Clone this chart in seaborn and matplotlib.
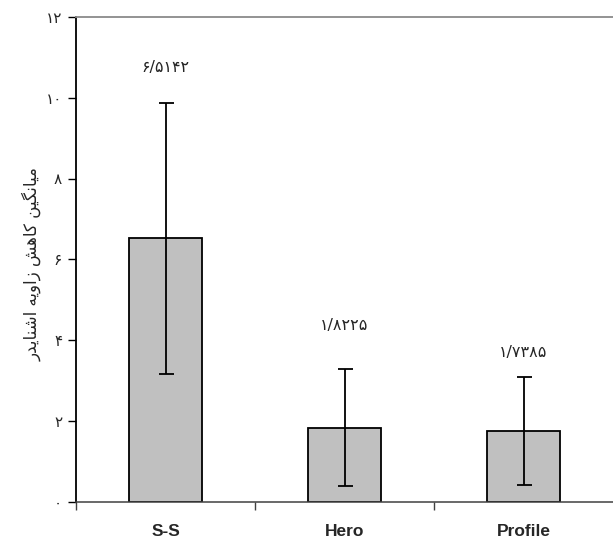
import matplotlib
matplotlib.use("Agg")
import matplotlib.pyplot as plt
import seaborn as sns

# data
groups = ["S-S", "Hero", "Profile"]
means = [6.5142, 1.8225, 1.7385]
errors = [3.35, 1.45, 1.34]
yticks = [0, 2, 4, 6, 8, 10, 12]

FA_DIGITS = str.maketrans("0123456789.", "۰۱۲۳۴۵۶۷۸۹/")


def fa_num(v, fmt="{:g}"):
    return fmt.format(v).translate(FA_DIGITS)


# "میانگین کاهش زاویه اشنایدر" written with presentation forms, reversed for LTR drawing
ylabel_forms = [
    "\uFEE3", "\uFBFF", "\uFE8E", "\uFEE7", "\uFB95", "\uFBFF", "\uFEE6", " ",
    "\uFB90", "\uFE8E", "\uFEEB", "\uFEB6", " ",
    "\uFEAF", "\uFE8D", "\uFEED", "\uFBFE", "\uFEEA", " ",
    "\uFE8D", "\uFEB7", "\uFEE8", "\uFE8E", "\uFBFE", "\uFEAA", "\uFEAD",
]
ylabel_text = "".join(reversed(ylabel_forms))

sns.set_style("white")
plt.rcParams["font.family"] = ["DejaVu Sans"]

fig = plt.figure(figsize=(6.13, 5.42), dpi=100)
ax = fig.add_axes([76 / 613, 40.5 / 542, 537 / 613, 484.5 / 542])

sns.barplot(x=groups, y=means, color="#c0c0c0", edgecolor="black",
            linewidth=1.3, width=0.41, saturation=1, errorbar=None, ax=ax)
ax.errorbar(range(len(groups)), means, yerr=errors, fmt="none",
            ecolor="black", elinewidth=1.3, capsize=5.4, capthick=1.3)

# value labels above the bars
label_y = [10.75, 4.37, 3.70]
for i, v in enumerate(means):
    ax.text(i, label_y[i], fa_num(v, "{:.4f}"), ha="center", va="center",
            fontsize=11.5, family=["DejaVu Sans"])

ax.set_ylim(0, 12)
ax.set_xlim(-0.5, 2.5)
ax.set_yticks(yticks)
ax.set_yticklabels([fa_num(t) for t in yticks], fontsize=11)
ax.tick_params(axis="y", direction="out", length=6, width=1, color="black",
               left=True, pad=4)

ax.set_xticks(range(len(groups)))
ax.set_xticklabels(groups, fontsize=12.5, fontweight="bold",
                   family=["Liberation Sans", "DejaVu Sans"])
ax.tick_params(axis="x", which="major", length=0, pad=16)
ax.set_xticks([-0.5, 0.5, 1.5], minor=True)
ax.tick_params(axis="x", which="minor", direction="out", length=6,
               width=1, color="#404040", bottom=True)

ax.set_xlabel("")
ax.set_ylabel(ylabel_text, fontsize=12)
ax.yaxis.set_label_coords(-0.064, 0.49)

ax.spines["left"].set_color("black")
ax.spines["left"].set_linewidth(1.3)
ax.spines["bottom"].set_color("#404040")
ax.spines["bottom"].set_linewidth(1.1)
ax.spines["top"].set_color("#8a8a8a")
ax.spines["top"].set_linewidth(1.3)
ax.spines["right"].set_visible(False)

fig.savefig("out.png", dpi=100)
